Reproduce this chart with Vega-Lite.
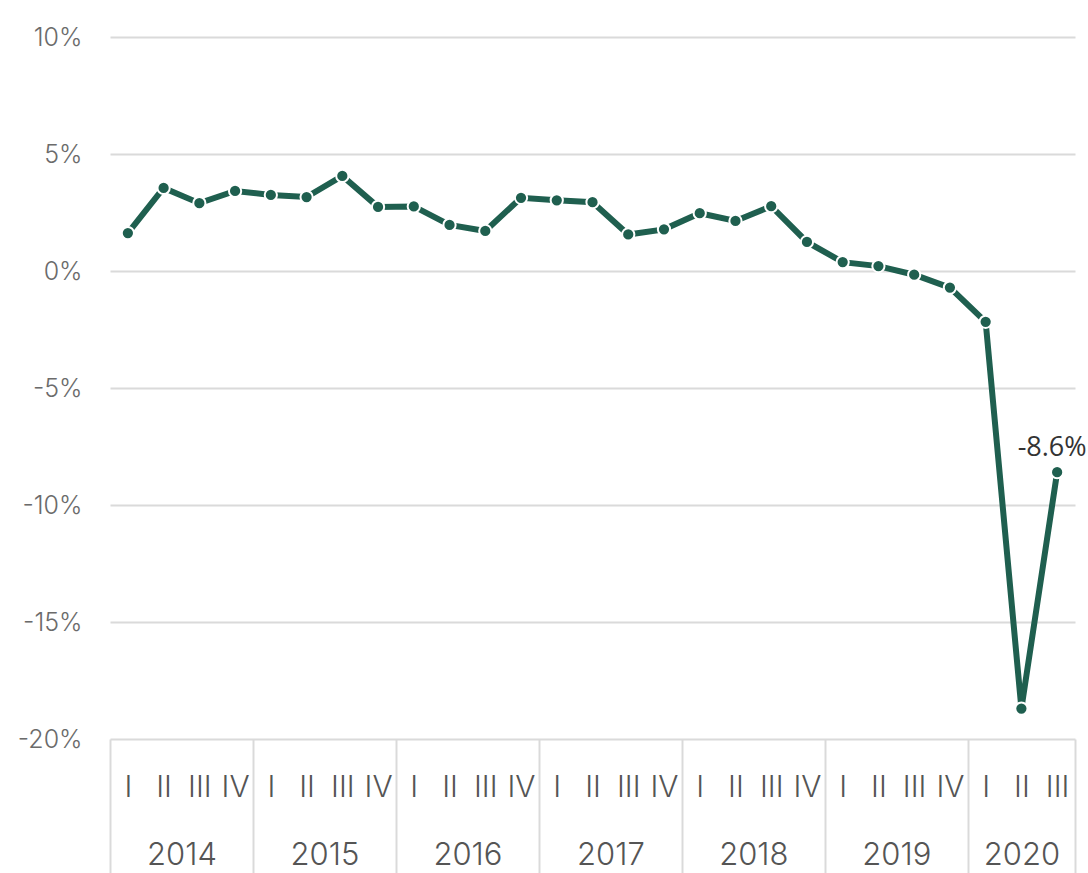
{
  "$schema": "https://vega.github.io/schema/vega-lite/v6.json",
  "width": 965,
  "height": 702,
  "autosize": {"type": "none"},
  "padding": {"left": 110, "top": 37, "right": 13, "bottom": 134},
  "background": "white",
  "config": {"view": {"stroke": null}, "font": "Open Sans"},
  "data": {
    "values": [
      {"i": 0, "value": 1.62},
      {"i": 1, "value": 3.55},
      {"i": 2, "value": 2.9},
      {"i": 3, "value": 3.42},
      {"i": 4, "value": 3.25},
      {"i": 5, "value": 3.16},
      {"i": 6, "value": 4.06},
      {"i": 7, "value": 2.74},
      {"i": 8, "value": 2.76},
      {"i": 9, "value": 1.97},
      {"i": 10, "value": 1.71},
      {"i": 11, "value": 3.13},
      {"i": 12, "value": 3.02},
      {"i": 13, "value": 2.94},
      {"i": 14, "value": 1.56},
      {"i": 15, "value": 1.78},
      {"i": 16, "value": 2.47},
      {"i": 17, "value": 2.14},
      {"i": 18, "value": 2.77},
      {"i": 19, "value": 1.24},
      {"i": 20, "value": 0.38},
      {"i": 21, "value": 0.21},
      {"i": 22, "value": -0.16},
      {"i": 23, "value": -0.71},
      {"i": 24, "value": -2.17},
      {"i": 25, "value": -18.7},
      {"i": 26, "value": -8.6}
    ]
  },
  "encoding": {
    "y": {
      "field": "value",
      "type": "quantitative",
      "scale": {"domain": [-20, 10], "nice": false, "zero": false},
      "axis": {
        "title": null,
        "values": [-20, -15, -10, -5, 0, 5, 10],
        "labelExpr": "datum.value + '%'",
        "labelFont": "Inter",
        "labelFontWeight": 300,
        "labelFontSize": 25,
        "labelColor": "#6b6b6b",
        "labelPadding": 28,
        "ticks": false,
        "domain": false,
        "grid": true,
        "gridColor": "#dadada",
        "gridWidth": 2
      }
    }
  },
  "layer": [
    {
      "mark": {"type": "line", "color": "#1f5f4f", "strokeWidth": 6},
      "encoding": {
        "x": {
          "field": "i",
          "type": "quantitative",
          "scale": {"domain": [-0.5, 26.5], "nice": false, "zero": false},
          "axis": {
            "title": null,
            "orient": "bottom",
            "values": [0,1,2,3,4,5,6,7,8,9,10,11,12,13,14,15,16,17,18,19,20,21,22,23,24,25,26],
            "labelExpr": "['I','II','III','IV'][datum.value % 4]",
            "labelFont": "Inter",
            "labelFontWeight": 300,
            "labelFontSize": 30,
            "labelColor": "#555555",
            "labelBaseline": "middle",
            "labelPadding": 48,
            "labelOverlap": false,
            "labelFlush": false,
            "ticks": false,
            "domain": false,
            "grid": false
          }
        }
      }
    },
    {
      "mark": {"type": "point", "filled": true, "size": 150, "fill": "#1f5f4f", "stroke": "white", "strokeWidth": 2, "opacity": 1},
      "encoding": {
        "x": {
          "field": "i",
          "type": "quantitative",
          "scale": {"domain": [-0.5, 26.5], "nice": false, "zero": false},
          "axis": {
            "title": null,
            "orient": "bottom",
            "values": [1.5, 5.5, 9.5, 13.5, 17.5, 21.5, 25],
            "labelExpr": "2014 + floor((datum.value + 0.5) / 4)",
            "labelFont": "Inter",
            "labelFontWeight": 300,
            "labelFontSize": 31,
            "labelColor": "#555555",
            "labelBaseline": "middle",
            "labelPadding": 116,
            "labelOverlap": false,
            "labelFlush": false,
            "ticks": false,
            "domain": false,
            "grid": false
          }
        }
      }
    },
    {
      "transform": [
        {"filter": "datum.i == 26"},
        {"calculate": "'' + datum.value + '%'", "as": "label"}
      ],
      "mark": {"type": "text", "dx": -5, "dy": -16, "baseline": "alphabetic", "align": "center", "fontSize": 27, "font": "Open Sans", "color": "#333333"},
      "encoding": {
        "text": {"field": "label"},
        "x": {
          "field": "i",
          "type": "quantitative",
          "scale": {"domain": [-0.5, 26.5], "nice": false, "zero": false},
          "axis": {
            "title": null,
            "orient": "bottom",
            "values": [-0.5, 3.5, 7.5, 11.5, 15.5, 19.5, 23.5, 26.5],
            "labels": false,
            "ticks": true,
            "tickSize": 140,
            "tickColor": "#dadada",
            "tickWidth": 2,
            "domain": false,
            "grid": false
          }
        }
      }
    }
  ],
  "resolve": {"axis": {"x": "independent"}}
}
